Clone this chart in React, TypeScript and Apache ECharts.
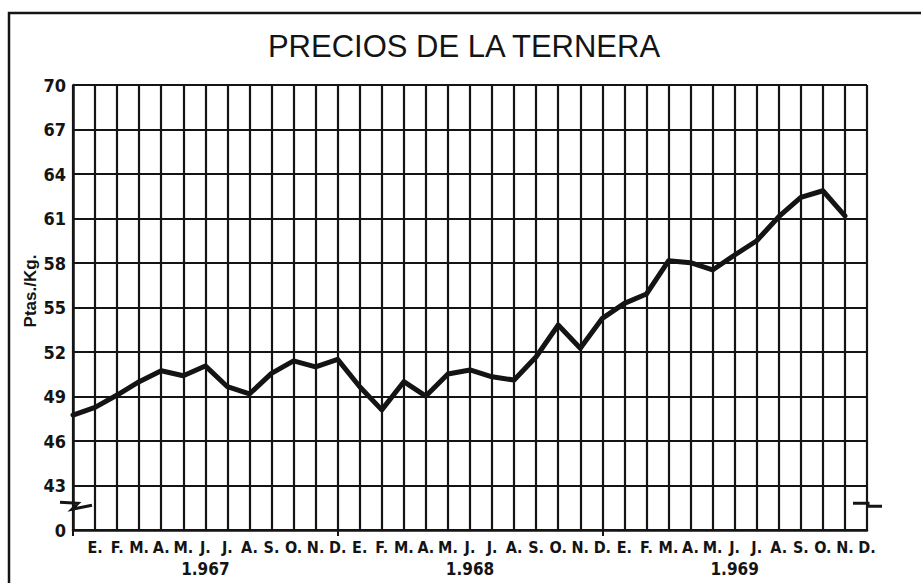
import React, { useEffect, useRef } from "react";
import * as echarts from "echarts";

const months = ["E.", "F.", "M.", "A.", "M.", "J.", "J.", "A.", "S.", "O.", "N.", "D."];
const years = ["1.967", "1.968", "1.969"];
const categories = ["", ...months, ...months, ...months];
const yearLabels = categories.map((_, i) => (i % 12 === 6 ? years[(i - 6) / 12] : ""));
const prices = [
  47.75, 48.27, 49.1, 50.0, 50.74, 50.4, 51.06, 49.66, 49.17, 50.56, 51.4, 51.0,
  51.5, 49.66, 48.1, 50.0, 49.03, 50.52, 50.79, 50.33, 50.11, 51.68, 53.82, 52.25,
  54.27, 55.28, 55.91, 58.15, 58.02, 57.53, 58.54, 59.5, 61.12, 62.43, 62.87, 61.17,
];
const yMin = 40;
const yMax = 70;
const yStep = 3;
const title = "PRECIOS DE LA TERNERA";
const yName = "Ptas./Kg.";

const INK = "#141414";
const FONT = "'Liberation Sans Narrow', 'DejaVu Sans Condensed', 'Arial Narrow', 'Liberation Sans', sans-serif";

export default function App() {
  const ref = useRef<HTMLDivElement>(null);
  useEffect(() => {
    if (!ref.current) return;
    const chart = echarts.init(ref.current, undefined, { renderer: "svg" });
    chart.setOption({
      animation: false,
      backgroundColor: "#fff",
      grid: { left: 73, right: 54, top: 85, bottom: 53, containLabel: false },
      xAxis: [
        {
          type: "category",
          data: categories,
          boundaryGap: false,
          axisLine: { show: true, lineStyle: { color: INK, width: 2.5 } },
          axisTick: {
            show: true,
            interval: (i: number) => i % 12 === 0 && i < 36,
            length: 6,
            lineStyle: { color: INK, width: 2 },
          },
          axisLabel: {
            interval: 0,
            color: INK,
            fontFamily: FONT,
            fontWeight: "bold",
            fontSize: 16,
            margin: 9,
          },
          splitLine: { show: true, interval: 0, lineStyle: { color: INK, width: 2.2 } },
        },
        {
          type: "category",
          data: yearLabels,
          position: "bottom",
          offset: 25,
          boundaryGap: false,
          axisLine: { show: false },
          axisTick: { show: false },
          axisLabel: {
            interval: 0,
            color: INK,
            fontFamily: FONT,
            fontWeight: "bold",
            fontSize: 17,
            margin: 5,
          },
          splitLine: { show: false },
        },
      ],
      yAxis: {
        type: "value",
        min: yMin,
        max: yMax,
        interval: yStep,
        axisLine: { show: true, lineStyle: { color: INK, width: 2.5 } },
        axisTick: { show: false },
        axisLabel: {
          color: INK,
          fontFamily: FONT,
          fontWeight: "bold",
          fontSize: 18,
          margin: 7,
          formatter: (v: number) => (v === yMin ? "0" : String(v)),
        },
        splitLine: { show: true, lineStyle: { color: INK, width: 2.2 } },
      },
      series: [
        {
          type: "line",
          xAxisIndex: 0,
          data: prices,
          symbol: "none",
          lineStyle: { color: INK, width: 5, join: "round", cap: "round" },
          z: 5,
        },
      ],
      graphic: [
        {
          id: "frame",
          type: "polyline",
          shape: { points: [[9, 583], [9, 13], [921, 13]] },
          style: { stroke: INK, lineWidth: 2.5, fill: "none" },
          silent: true,
        },
        {
          id: "title",
          type: "text",
          x: 464,
          y: 46,
          style: {
            text: title,
            fill: INK,
            font: "normal 31px 'Liberation Sans', Arial, sans-serif",
            textAlign: "center",
            textVerticalAlign: "middle",
          },
          silent: true,
        },
        {
          id: "yname",
          type: "text",
          x: 30,
          y: 291,
          rotation: Math.PI / 2,
          style: {
            text: yName,
            fill: INK,
            font: "bold 17px 'Liberation Sans', Arial, sans-serif",
            textAlign: "center",
            textVerticalAlign: "middle",
          },
          silent: true,
        },
      ],
    });

    const x0 = chart.convertToPixel({ xAxisIndex: 0 }, 0) as number;
    const x1 = chart.convertToPixel({ xAxisIndex: 0 }, 36) as number;
    const yb = chart.convertToPixel({ yAxisIndex: 0 }, 41.6) as number;
    chart.setOption({
      graphic: [
        {
          id: "breakL",
          type: "polyline",
          shape: { points: [[x0 - 13, yb - 4], [x0 + 5, yb - 3], [x0 - 1, yb + 3], [x0 + 19, yb - 1]] },
          style: { stroke: INK, lineWidth: 3, fill: "none" },
          silent: true,
          z: 10,
        },
        {
          id: "breakR",
          type: "polyline",
          shape: { points: [[x1 - 14, yb - 3], [x1 + 1, yb - 3], [x1 + 1, yb], [x1 + 15, yb]] },
          style: { stroke: INK, lineWidth: 3, fill: "none" },
          silent: true,
          z: 10,
        },
      ],
    });

    return () => chart.dispose();
  }, []);
  return (
    <div
      ref={ref}
      style={{ position: "fixed", left: 0, top: 0, width: 921, height: 583 }}
    />
  );
}
